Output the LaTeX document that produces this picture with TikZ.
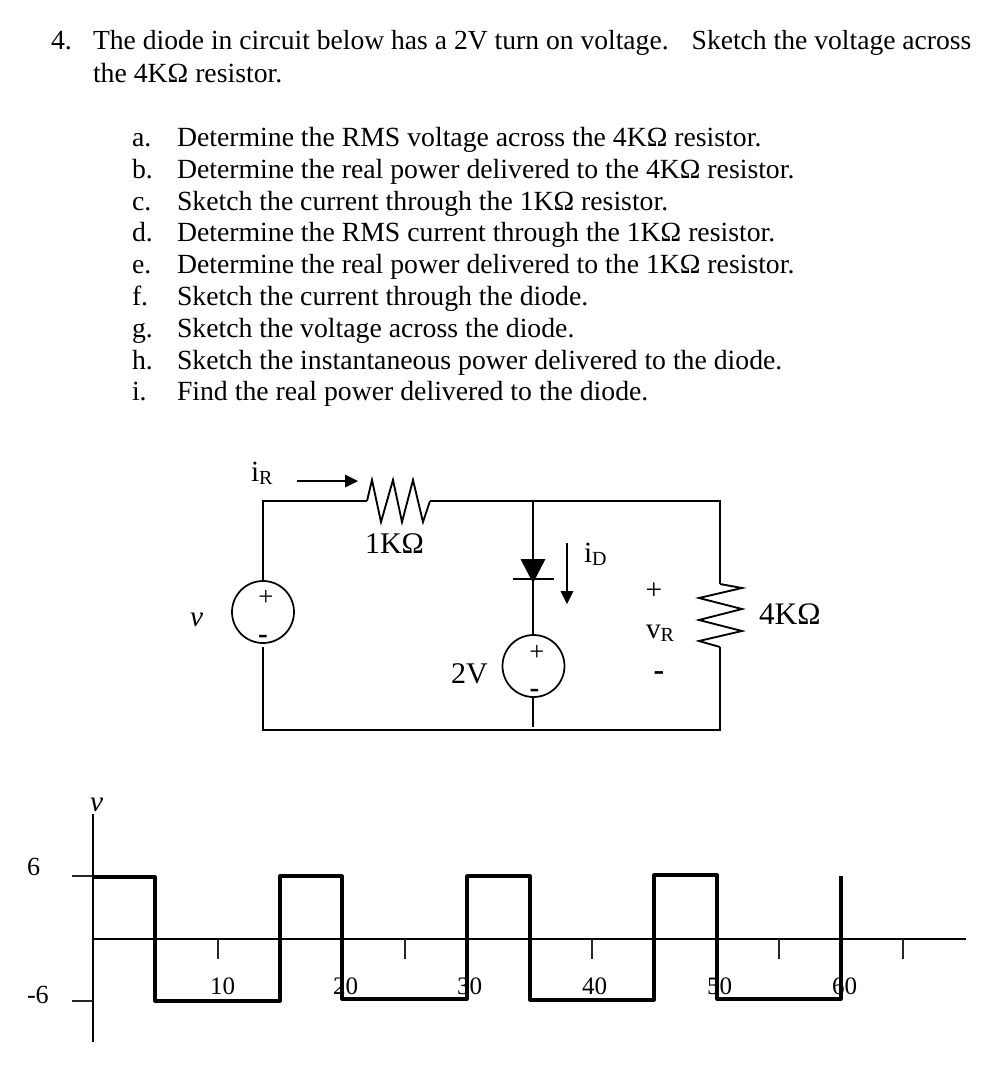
\documentclass[tikz,border=0pt]{standalone}
\usepackage{fontspec}
\setmainfont{Liberation Serif}
\newcommand{\fs}[1]{\fontsize{#1}{#1}\selectfont}
\newcommand{\sbs}[1]{\raisebox{-2.5pt}{\fs{15}#1}}
\begin{document}
\begin{tikzpicture}[x=0.75pt,y=-0.75pt,
  txt/.style={anchor=base west,inner sep=0pt,outer sep=0pt,font=\fs{20.8}},
  lab/.style={anchor=base west,inner sep=0pt,outer sep=0pt,font=\fs{22.5}},
  tck/.style={anchor=base west,inner sep=0pt,outer sep=0pt,font=\fs{18.8}},
  sgn/.style={inner sep=0pt,outer sep=0pt,font=\fs{16}},
  wire/.style={draw=black,line width=1.4pt,line join=miter},
  thin wire/.style={draw=black!85,line width=1.1pt},
  wave/.style={draw=black,line width=2.3pt,line join=round},
  src/.style={circle,draw=black,line width=1.3pt,minimum size=46.5pt,inner sep=0pt,fill=none},
  tip/.style={fill=black,draw=none}]
\useasboundingbox[fill=white] (0,0) rectangle (998,1072);
% Question text
\node[txt] (q1) at (51,49) {4.};
\node[txt,font=\fs{20.7}] (q1b) at (93,49) {The diode in circuit below has a 2V turn on voltage.\hspace{0.5em} Sketch the voltage across};
\node[txt] (q2) at (93,82) {the 4KΩ resistor.};
\foreach \n/\yy/\lt/\tx in {
 a/146/a./Determine the RMS voltage across the 4KΩ resistor.,
 b/178/b./Determine the real power delivered to the 4KΩ resistor.,
 c/210/c./Sketch the current through the 1KΩ resistor.,
 d/241/d./Determine the RMS current through the 1KΩ resistor.,
 e/273/e./Determine the real power delivered to the 1KΩ resistor.,
 f/305/f./Sketch the current through the diode.,
 g/337/g./Sketch the voltage across the diode.,
 h/369/h./Sketch the instantaneous power delivered to the diode.,
 i/400/i./Find the real power delivered to the diode.}{
  \node[txt] (l\n) at (132,\yy) {\lt};
  \node[txt] (t\n) at (177,\yy) {\tx};
}
% Circuit nodes
\node[src] (vs) at (263,612) {};
\node[src] (vd) at (533.5,666) {};
\coordinate (tl) at (263,501);
\coordinate (bl) at (263,730);
\coordinate (tr) at (720,501);
\coordinate (br) at (720,730);
\coordinate (tm) at (533,501);
\coordinate (r1a) at (367,501);
\coordinate (r1b) at (430,501);
\coordinate (r2a) at (720,584);
\coordinate (r2b) at (720,647);
\coordinate (va) at (263,581);
\coordinate (vb) at (263,647);
\coordinate (dk) at (533,581);
\coordinate (dbot) at (533,727);
\coordinate (ds) at (533,635);
\coordinate (dd) at (533,697);
% Wires
\path[wire] (va) -- (tl) -- (r1a);
\path[wire] (r1b) -- (tr) -- (r2a);
\path[wire] (r2b) -- (br) -- (bl) -- (vb);
\path[wire] (tm) -- (dk);
\path[wire] (dk) -- (ds);
\path[wire] (dd) -- (dbot);
% Resistors
\path[wire,line join=miter] (r1a) -- (372,480) -- (381,522) -- (393,480) -- (402,522) -- (413,480) -- (423,522) -- (r1b);
\path[wire,line join=miter] (r2a) -- (742,588) -- (699,598) -- (742,609) -- (699,620) -- (742,631) -- (699,641) -- (r2b);
% Diode
\fill[tip] (520.5,559) -- (545.5,559) -- (533,583) -- cycle;
\coordinate (bar1) at (513,579);
\coordinate (bar2) at (554,579);
\path[wire] (bar1) -- (bar2);
% Current arrows
\coordinate (ira) at (297,481);
\coordinate (irb) at (345,481);
\path[wire] (ira) -- (irb);
\fill[tip] (345,474.5) -- (358,481) -- (345,487.5) -- cycle;
\coordinate (ida) at (567,543);
\coordinate (idb) at (567,592);
\path[wire] (ida) -- (idb);
\fill[tip] (560.5,591) -- (573.5,591) -- (567,604) -- cycle;
% Circuit labels
\node[lab,font=\fs{22}] (ir) at (251,481) {i\sbs{R}};
\node[lab] (r1) at (365,553) {1KΩ};
\node[lab,font=\fs{23.5}] (r2) at (759,624) {4KΩ};
\node[lab] (v2) at (451,683) {2V};
\node[lab,font=\fs{22}] (id) at (584,562) {i\sbs{D}};
\node[lab,font=\fs{22}\itshape] (vl) at (190,626) {v};
\node[lab,font=\fs{22}] (vr) at (646,638) {v\sbs{R}};
\node[sgn,font=\fs{22}] (vrp) at (654,591) {+};
\node[sgn,font=\fs{24}\bfseries] (vrm) at (659,676) {-};
\node[sgn,font=\fs{20}] (vsp) at (266,598) {+};
\node[sgn,font=\fs{22}\bfseries] (vsm) at (263,639) {-};
\node[sgn,font=\fs{20}] (vdp) at (537,653) {+};
\node[sgn,font=\fs{22}\bfseries] (vdm) at (534.5,693) {-};
% Graph
\coordinate (yt) at (93,814);
\coordinate (yb) at (93,1042);
\coordinate (xl) at (93,939);
\coordinate (xr) at (966,939);
\path[wire,line width=1.1pt] (yt) -- (yb);
\path[wire,line width=1.1pt] (xl) -- (xr);
\foreach \n/\xx in {a/218,b/405,c/592,d/779,e/903}{
  \coordinate (k\n a) at (\xx,939);
  \coordinate (k\n b) at (\xx,959);
  \path[thin wire] (k\n a) -- (k\n b);
}
\coordinate (y6a) at (72,876);
\coordinate (y6b) at (93,876);
\coordinate (ym6a) at (72,1001);
\coordinate (ym6b) at (93,1001);
\path[thin wire] (y6a) -- (y6b);
\path[thin wire] (ym6a) -- (ym6b);
\path[wave] (93,877) -- (155,877) -- (155,1001) -- (280,1001) -- (280,876) -- (342,876) -- (342,999) -- (467,999) -- (467,876) -- (530,876) -- (530,1000) -- (654,1000) -- (654,875) -- (717,875) -- (717,999) -- (841,999) -- (841,876);
% Graph labels
\node[tck,font=\fs{22}\itshape] (vy) at (90,811) {v};
\node[tck,font=\fs{19.6}] (six) at (27,875) {6};
\node[tck,font=\fs{19.6}] (msix) at (27,1003) {-6};
\node[tck] (n10) at (210,994) {10};
\node[tck] (n20) at (333,994) {20};
\node[tck] (n30) at (457,994) {30};
\node[tck] (n40) at (582,994) {40};
\node[tck] (n50) at (707,994) {50};
\node[tck] (n60) at (832,994) {60};
\end{tikzpicture}
\end{document}
